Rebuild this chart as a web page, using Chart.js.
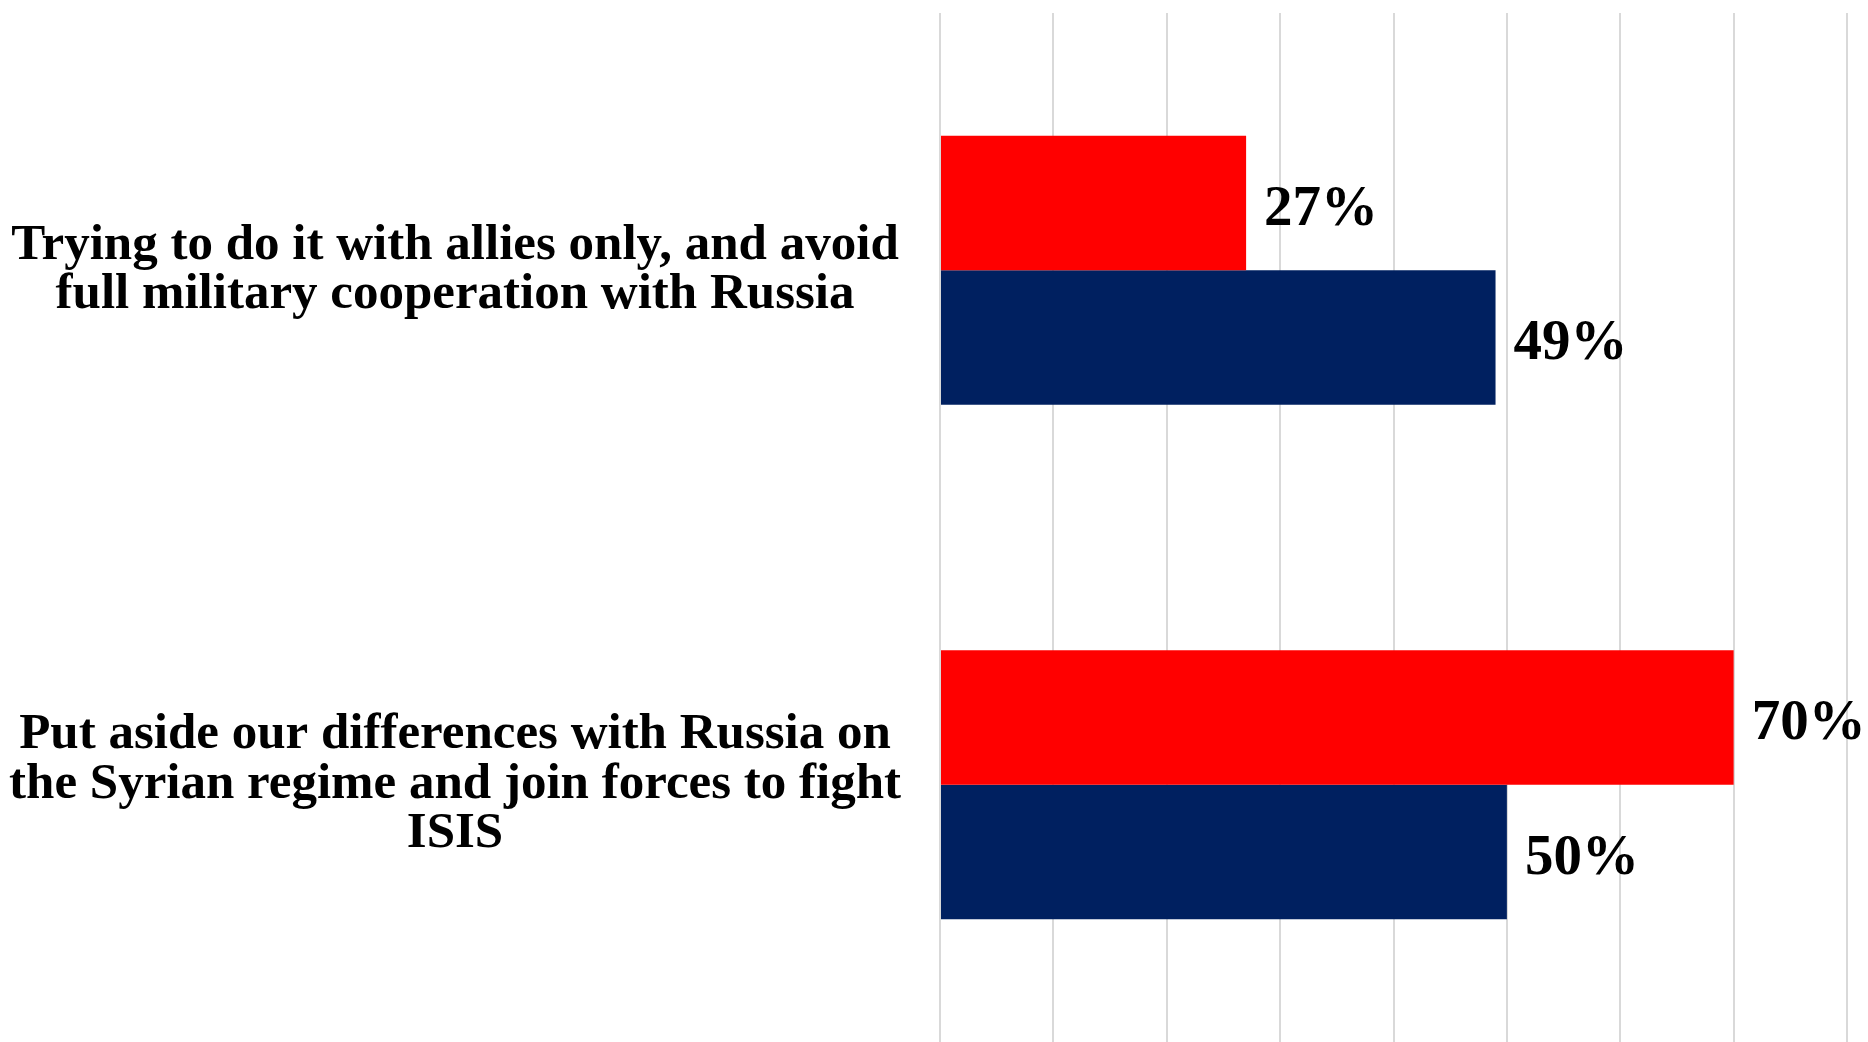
<!DOCTYPE html>
<html>
<head>
<meta charset="utf-8">
<script src="https://cdn.jsdelivr.net/npm/chart.js@4"></script>
<style>
  html, body { margin: 0; padding: 0; background: #ffffff; }
  #wrap { width: 1868px; height: 1042px; }
</style>
</head>
<body>
<div id="wrap"><canvas id="c" width="1868" height="1042"></canvas></div>
<script>
const categories = [
  ["Trying to do it with allies only, and avoid", "full military cooperation with Russia"],
  ["Put aside our differences with Russia on", "the Syrian regime and join forces to fight", "ISIS"]
];
const seriesRed = [27, 70];
const seriesNavy = [49, 50];
const seriesNames = ["Series A", "Series B"];

const valueLabels = {
  id: 'valueLabels',
  afterDatasetsDraw(chart) {
    const ctx = chart.ctx;
    ctx.save();
    ctx.font = 'bold 57px "Liberation Serif", serif';
    ctx.fillStyle = '#000000';
    ctx.textAlign = 'left';
    ctx.textBaseline = 'middle';
    chart.data.datasets.forEach((ds, i) => {
      const meta = chart.getDatasetMeta(i);
      meta.data.forEach((bar, j) => {
        ctx.fillText(ds.data[j] + '%', bar.x + 18, bar.y + 7);
      });
    });
    ctx.restore();
  }
};

new Chart(document.getElementById('c'), {
  type: 'bar',
  data: {
    labels: categories,
    datasets: [
      { label: seriesNames[0], data: seriesRed, backgroundColor: '#FF0000', categoryPercentage: 0.523, barPercentage: 1.0 },
      { label: seriesNames[1], data: seriesNavy, backgroundColor: '#002060', categoryPercentage: 0.523, barPercentage: 1.0 }
    ]
  },
  options: {
    indexAxis: 'y',
    responsive: false,
    animation: false,
    layout: { padding: { top: 13, right: 21, bottom: 0, left: 0 } },
    plugins: { legend: { display: false }, tooltip: { enabled: false } },
    scales: {
      x: {
        min: 0, max: 80,
        ticks: { display: false, stepSize: 10 },
        grid: { color: '#D9D9D9', lineWidth: 2, drawTicks: false },
        border: { display: false }
      },
      y: {
        afterFit(scale) { scale.width = 940; scale.paddingTop = 0; scale.paddingBottom = 0; },
        grid: { display: false },
        border: { display: false },
        ticks: {
          crossAlign: 'center',
          padding: 31,
          color: '#000000',
          font: { family: '"Liberation Serif", serif', size: 51, weight: 'bold', lineHeight: 0.97 }
        }
      }
    }
  },
  plugins: [valueLabels]
});
</script>
</body>
</html>
